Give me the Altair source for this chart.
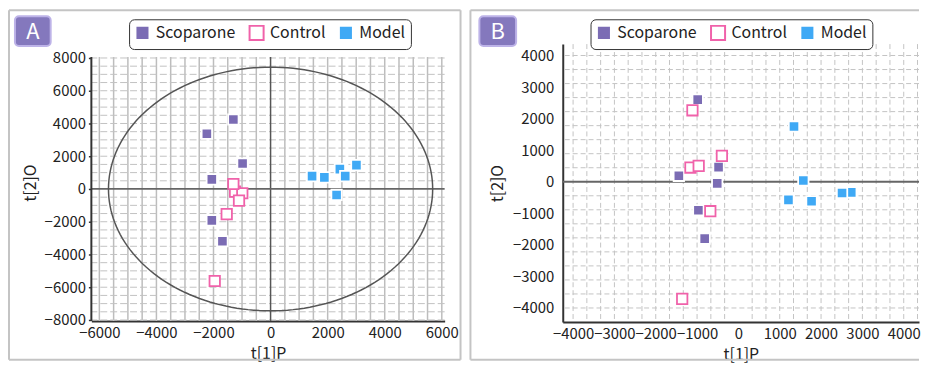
import altair as alt
import numpy as np
import pandas as pd

FONT = "Noto Sans CJK KR"
GROUPS = ["Scoparone", "Control", "Model"]
FILL = ["#7b6cb4", "#ffffff", "#3fa9f5"]
STROKE = ["#ffffff", "#f062aa", "#ffffff"]

# ---- Panel A (OPLS-DA scores with Hotelling ellipse) ----
a_scoparone_x = [-1304, -2233, -981, -2059, -2059, -1687]
a_scoparone_y = [4242, 3375, 1556, 586, -1919, -3192]
a_control_x = [-1245, -991, -1106, -1304, -1537, -1957]
a_control_y = [-164, -261, -709, 303, -1533, -5618]
a_model_x = [1454, 1885, 2428, 2616, 3009, 2313]
a_model_y = [788, 707, 1212, 788, 1455, -364]
a_xticks = [-6000, -4000, -2000, 0, 2000, 4000, 6000]
a_yticks = [-8000, -6000, -4000, -2000, 0, 2000, 4000, 6000, 8000]
a_xgrid = [v for v in range(-6000, 6001, 500) if v != 0]
a_ygrid = [v for v in range(-8000, 8001, 500) if v != 0]
a_ellipse_rx = 5680
a_ellipse_ry = 7440
a_yrange = [-8060, 8060]      # extent of the drawn y axis
a_ytop = 8848                 # headroom above the axis (shared top with panel B)

# ---- Panel B ----
b_scoparone_x = [-985, -1441, -480, -512, -968, -816]
b_scoparone_y = [2601, 189, 462, -53, -903, -1802]
b_control_x = [-1112, -1160, -961, -399, -680, -1360]
b_control_y = [2264, 450, 503, 818, -934, -3711]
b_model_x = [1345, 1571, 1211, 1770, 2731, 2508]
b_model_y = [1752, 41, -575, -619, -336, -355]
b_xticks = [-4000, -3000, -2000, -1000, 0, 1000, 2000, 3000, 4000]
b_yticks = [-4000, -3000, -2000, -1000, 0, 1000, 2000, 3000, 4000]
b_xgrid = [k * 1000 / 3 for k in range(-12, 14) if k != 0]
b_ygrid = [k * 4000 / 9 for k in range(-9, 10) if k != 0]


def scores(sx, sy, cx, cy, mx, my):
    xs = sx + cx + mx
    ys = sy + cy + my
    gs = ["Scoparone"] * len(sx) + ["Control"] * len(cx) + ["Model"] * len(mx)
    return pd.DataFrame({"x": xs, "y": ys, "group": gs, "i": list(range(len(xs)))})


def legend(lx, ly):
    return alt.Legend(
        orient="none", legendX=lx, legendY=ly, direction="horizontal", title=None,
        strokeColor="#333333", fillColor="white", cornerRadius=5, padding=5,
        symbolSize=200, symbolStrokeWidth=2, symbolType="square",
        labelFontSize=16, labelFont=FONT, labelColor="#222222",
        columnPadding=9, labelOffset=5,
    )


def axis(values, title, ticks, label_pad, title_pad, domain=True):
    kw = dict(values=values, format="d", grid=False, domain=domain,
              labelFontSize=15, labelColor="#222222", labelFont=FONT,
              title=title, titleFontSize=16, titleFontWeight="normal", titleColor="#222222",
              titleFont=FONT, labelPadding=label_pad, titlePadding=title_pad)
    if domain:
        kw.update(domainColor="#333333", domainWidth=2)
    if ticks:
        kw.update(ticks=True, tickSize=3, tickColor="#333333", tickWidth=1.5)
    else:
        kw.update(ticks=False)
    return alt.Axis(**kw)


def panel(df, xdom, ydom, w, h, xticks, yticks, xgrid, ygrid, xgrid_style, ygrid_style,
          frame, box, letter, leg_xy, ytick_on, ytitle_pad, ylabel_pad, zero_x,
          ellipse=None, yspan=None, right_edge=True):
    xs = alt.Scale(domain=xdom, nice=False, zero=False)
    ys = alt.Scale(domain=ydom, nice=False, zero=False)
    ax = axis(xticks, "t[1]P", False, 5, 5)
    ay = axis(yticks, "t[2]O", ytick_on, ylabel_pad, ytitle_pad, domain=yspan is None)
    one = pd.DataFrame({"label": [letter]})

    def vspan():
        if yspan is None:
            return {}
        return dict(y=alt.Y(datum=yspan[0], type="quantitative", scale=ys, axis=ay),
                    y2=alt.Y2(datum=yspan[1]))

    fx0, fx1, fy0, fy1 = frame
    fstyle = dict(color="#c4c4c4", strokeWidth=2)
    frame_layers = [
        alt.Chart(one).mark_rule(**fstyle).encode(
            x=alt.value(fx0), y=alt.value(fy0), y2=alt.value(fy1)),
        alt.Chart(one).mark_rule(**fstyle).encode(
            x=alt.value(fx0), x2=alt.value(fx1), y=alt.value(fy0)),
        alt.Chart(one).mark_rule(**fstyle).encode(
            x=alt.value(fx0), x2=alt.value(fx1), y=alt.value(fy1)),
    ]
    if right_edge:
        frame_layers.append(alt.Chart(one).mark_rule(**fstyle).encode(
            x=alt.value(fx1), y=alt.value(fy0), y2=alt.value(fy1)))
    box_l = alt.Chart(one).mark_rect(fill="#8478bd", stroke="#bdb3e8", strokeWidth=2,
                                     cornerRadius=4).encode(
        x=alt.value(box[0]), x2=alt.value(box[1]), y=alt.value(box[2]), y2=alt.value(box[3]))
    letter_l = alt.Chart(one).mark_text(color="white", fontSize=22, font=FONT,
                                        align="center", baseline="middle").encode(
        x=alt.value((box[0] + box[1]) / 2), y=alt.value((box[2] + box[3]) / 2 + 1),
        text="label:N")

    vg = alt.Chart(pd.DataFrame({"v": xgrid})).mark_rule(**xgrid_style).encode(
        x=alt.X("v:Q", scale=xs, axis=ax), **vspan())
    hg = alt.Chart(pd.DataFrame({"v": ygrid})).mark_rule(**ygrid_style).encode(
        y=alt.Y("v:Q", scale=ys, axis=ay))
    layers = frame_layers + [box_l, letter_l, vg, hg]
    if zero_x:
        layers.append(alt.Chart(one).mark_rule(color="#555555", strokeWidth=1.5).encode(
            x=alt.X(datum=0, type="quantitative", scale=xs, axis=ax), **vspan()))
    layers.append(alt.Chart(one).mark_rule(color="#666666", strokeWidth=1.8).encode(
        y=alt.Y(datum=0, type="quantitative", scale=ys, axis=ay)))
    if yspan is not None:
        layers.append(alt.Chart(one).mark_rule(color="#333333", strokeWidth=2).encode(
            x=alt.X(datum=xdom[0], type="quantitative", scale=xs, axis=ax), **vspan()))
    if ellipse is not None:
        layers.append(alt.Chart(ellipse).mark_line(color="#555555", strokeWidth=1.5).encode(
            x=alt.X("ex:Q", scale=xs, axis=ax), y=alt.Y("ey:Q", scale=ys, axis=ay),
            order="k:Q"))
    leg = legend(*leg_xy)
    layers.append(alt.Chart(df).mark_square(size=110, strokeWidth=1.8, opacity=1).encode(
        x=alt.X("x:Q", scale=xs, axis=ax),
        y=alt.Y("y:Q", scale=ys, axis=ay),
        fill=alt.Fill("group:N", scale=alt.Scale(domain=GROUPS, range=FILL), legend=leg),
        stroke=alt.Stroke("group:N", scale=alt.Scale(domain=GROUPS, range=STROKE), legend=leg),
        order=alt.Order("i:Q"),
    ))
    return alt.layer(*layers).properties(width=w, height=h)


t = np.linspace(0, 2 * np.pi, 181)
ell = pd.DataFrame({"ex": a_ellipse_rx * np.cos(t), "ey": a_ellipse_ry * np.sin(t),
                    "k": list(range(len(t)))})

dfA = scores(a_scoparone_x, a_scoparone_y, a_control_x, a_control_y, a_model_x, a_model_y)
dfB = scores(b_scoparone_x, b_scoparone_y, b_control_x, b_control_y, b_model_x, b_model_y)

A = panel(dfA, [-6280, 6100], [a_yrange[0], a_ytop], 356, 279, a_xticks, a_yticks, a_xgrid, a_ygrid,
          dict(color="#bdbdbd", strokeWidth=1.5),
          dict(color="#c2c2c2", strokeWidth=1, strokeDash=[7, 3]),
          frame=(-83, 372, -34, 318), box=(-77, -41, -28, 2), letter="A",
          leg_xy=(38, -25), ytick_on=True, ytitle_pad=6, ylabel_pad=3, zero_x=True,
          ellipse=ell, yspan=a_yrange)

B = panel(dfB, [-4250, 4370], [-4443, 4362], 359, 280, b_xticks, b_yticks, b_xgrid, b_ygrid,
          dict(color="#c4c4c4", strokeWidth=1, strokeDash=[5, 3]),
          dict(color="#c4c4c4", strokeWidth=1, strokeDash=[5, 3]),
          frame=(-93, 359, -34, 318), box=(-84, -47, -28, 2), letter="B",
          leg_xy=(28, -25), ytick_on=False, ytitle_pad=7, ylabel_pad=9, zero_x=False,
          right_edge=False)

chart = (
    alt.hconcat(A, B, spacing=8)
    .resolve_scale(x="independent", y="independent", fill="independent", stroke="independent")
    .resolve_legend(fill="independent", stroke="independent")
    .properties(padding=0)
    .configure_view(stroke=None)
)

chart.save("out.html", embed_options={"renderer": "svg", "actions": False})
